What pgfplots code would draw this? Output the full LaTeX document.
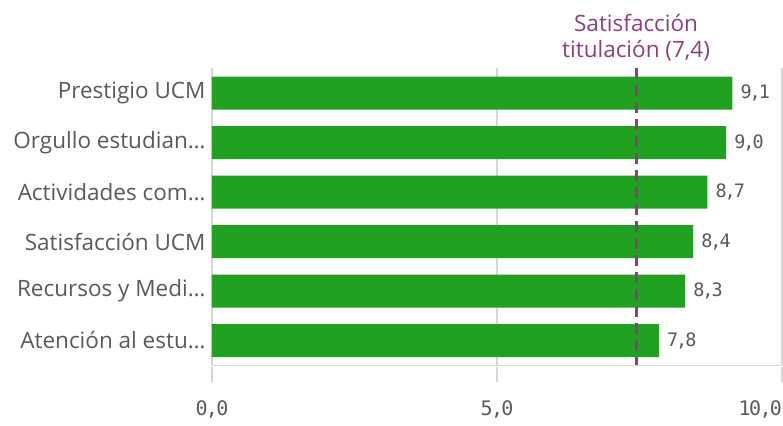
\documentclass[border=0pt]{standalone}
\usepackage{pgfplots}
\pgfplotsset{compat=1.18}
\usepackage{fontspec}
\setmainfont{Open Sans}
\newfontfamily\numfont[LetterSpace=-8]{DejaVu Sans Mono}
\newfontfamily\valfont[LetterSpace=-11]{DejaVu Sans Mono}
\definecolor{barg}{RGB}{33,161,33}
\definecolor{refp}{RGB}{140,62,128}
\definecolor{lbl}{RGB}{89,89,89}
\definecolor{gridc}{RGB}{214,214,214}

\begin{document}
\begin{tikzpicture}
\begin{axis}[
  scale only axis, width=570pt, height=297pt,
  xbar, bar width=33pt,
  xmin=0, xmax=10, ymin=-0.5, ymax=5.5,
  clip=false,
  xtick={0,5,10},
  xticklabels={{0,0},{5,0},{\llap{10,0}}},
  ytick={0,...,5},
  yticklabels={Atención al estu…, Recursos y Medi…, Satisfacción UCM, Actividades com…, Orgullo estudian…, Prestigio UCM},
  axis x line*=bottom, axis y line*=left,
  axis line style={gridc, line width=1.5pt, -},
  xmajorgrids, grid style={gridc, line width=1.5pt},
  major tick length=15pt,
  tick align=outside,
  xtick style={gridc, line width=1.5pt, yshift=-2pt},
  ytick style={draw=none},
  x tick label style={font=\fontsize{20}{22}\numfont, text=lbl, yshift=-17pt},
  y tick label style={font=\fontsize{22.5}{26}\selectfont, text=lbl, xshift=12pt},
  nodes near coords={\pgfmathprintnumber[fixed,fixed zerofill,precision=1,use comma,assume math mode=true]{\pgfplotspointmeta}},
  nodes near coords style={font=\fontsize{18.5}{20}\valfont, text=lbl, anchor=west, inner sep=0pt, xshift=8pt},
]
% bottom to top: Atención, Recursos, Satisfacción UCM, Actividades, Orgullo, Prestigio
\addplot[fill=barg, draw=none] coordinates {(7.84,0) (8.30,1) (8.44,2) (8.69,3) (9.02,4) (9.13,5)};
\draw[refp, line width=3pt, dash pattern=on 11pt off 6pt] (axis cs:7.44,5.5) -- (axis cs:7.44,-0.5);
\node[refp, anchor=south, align=center, inner sep=0pt, font=\fontsize{22.5}{26}\selectfont] at (axis cs:7.44,5.5) [yshift=7pt] {Satisfacción\\titulación (7,4)};
\end{axis}
\pgfresetboundingbox
\useasboundingbox (-212pt,-60.25pt) rectangle (571pt,365.25pt);
\end{tikzpicture}
\end{document}
